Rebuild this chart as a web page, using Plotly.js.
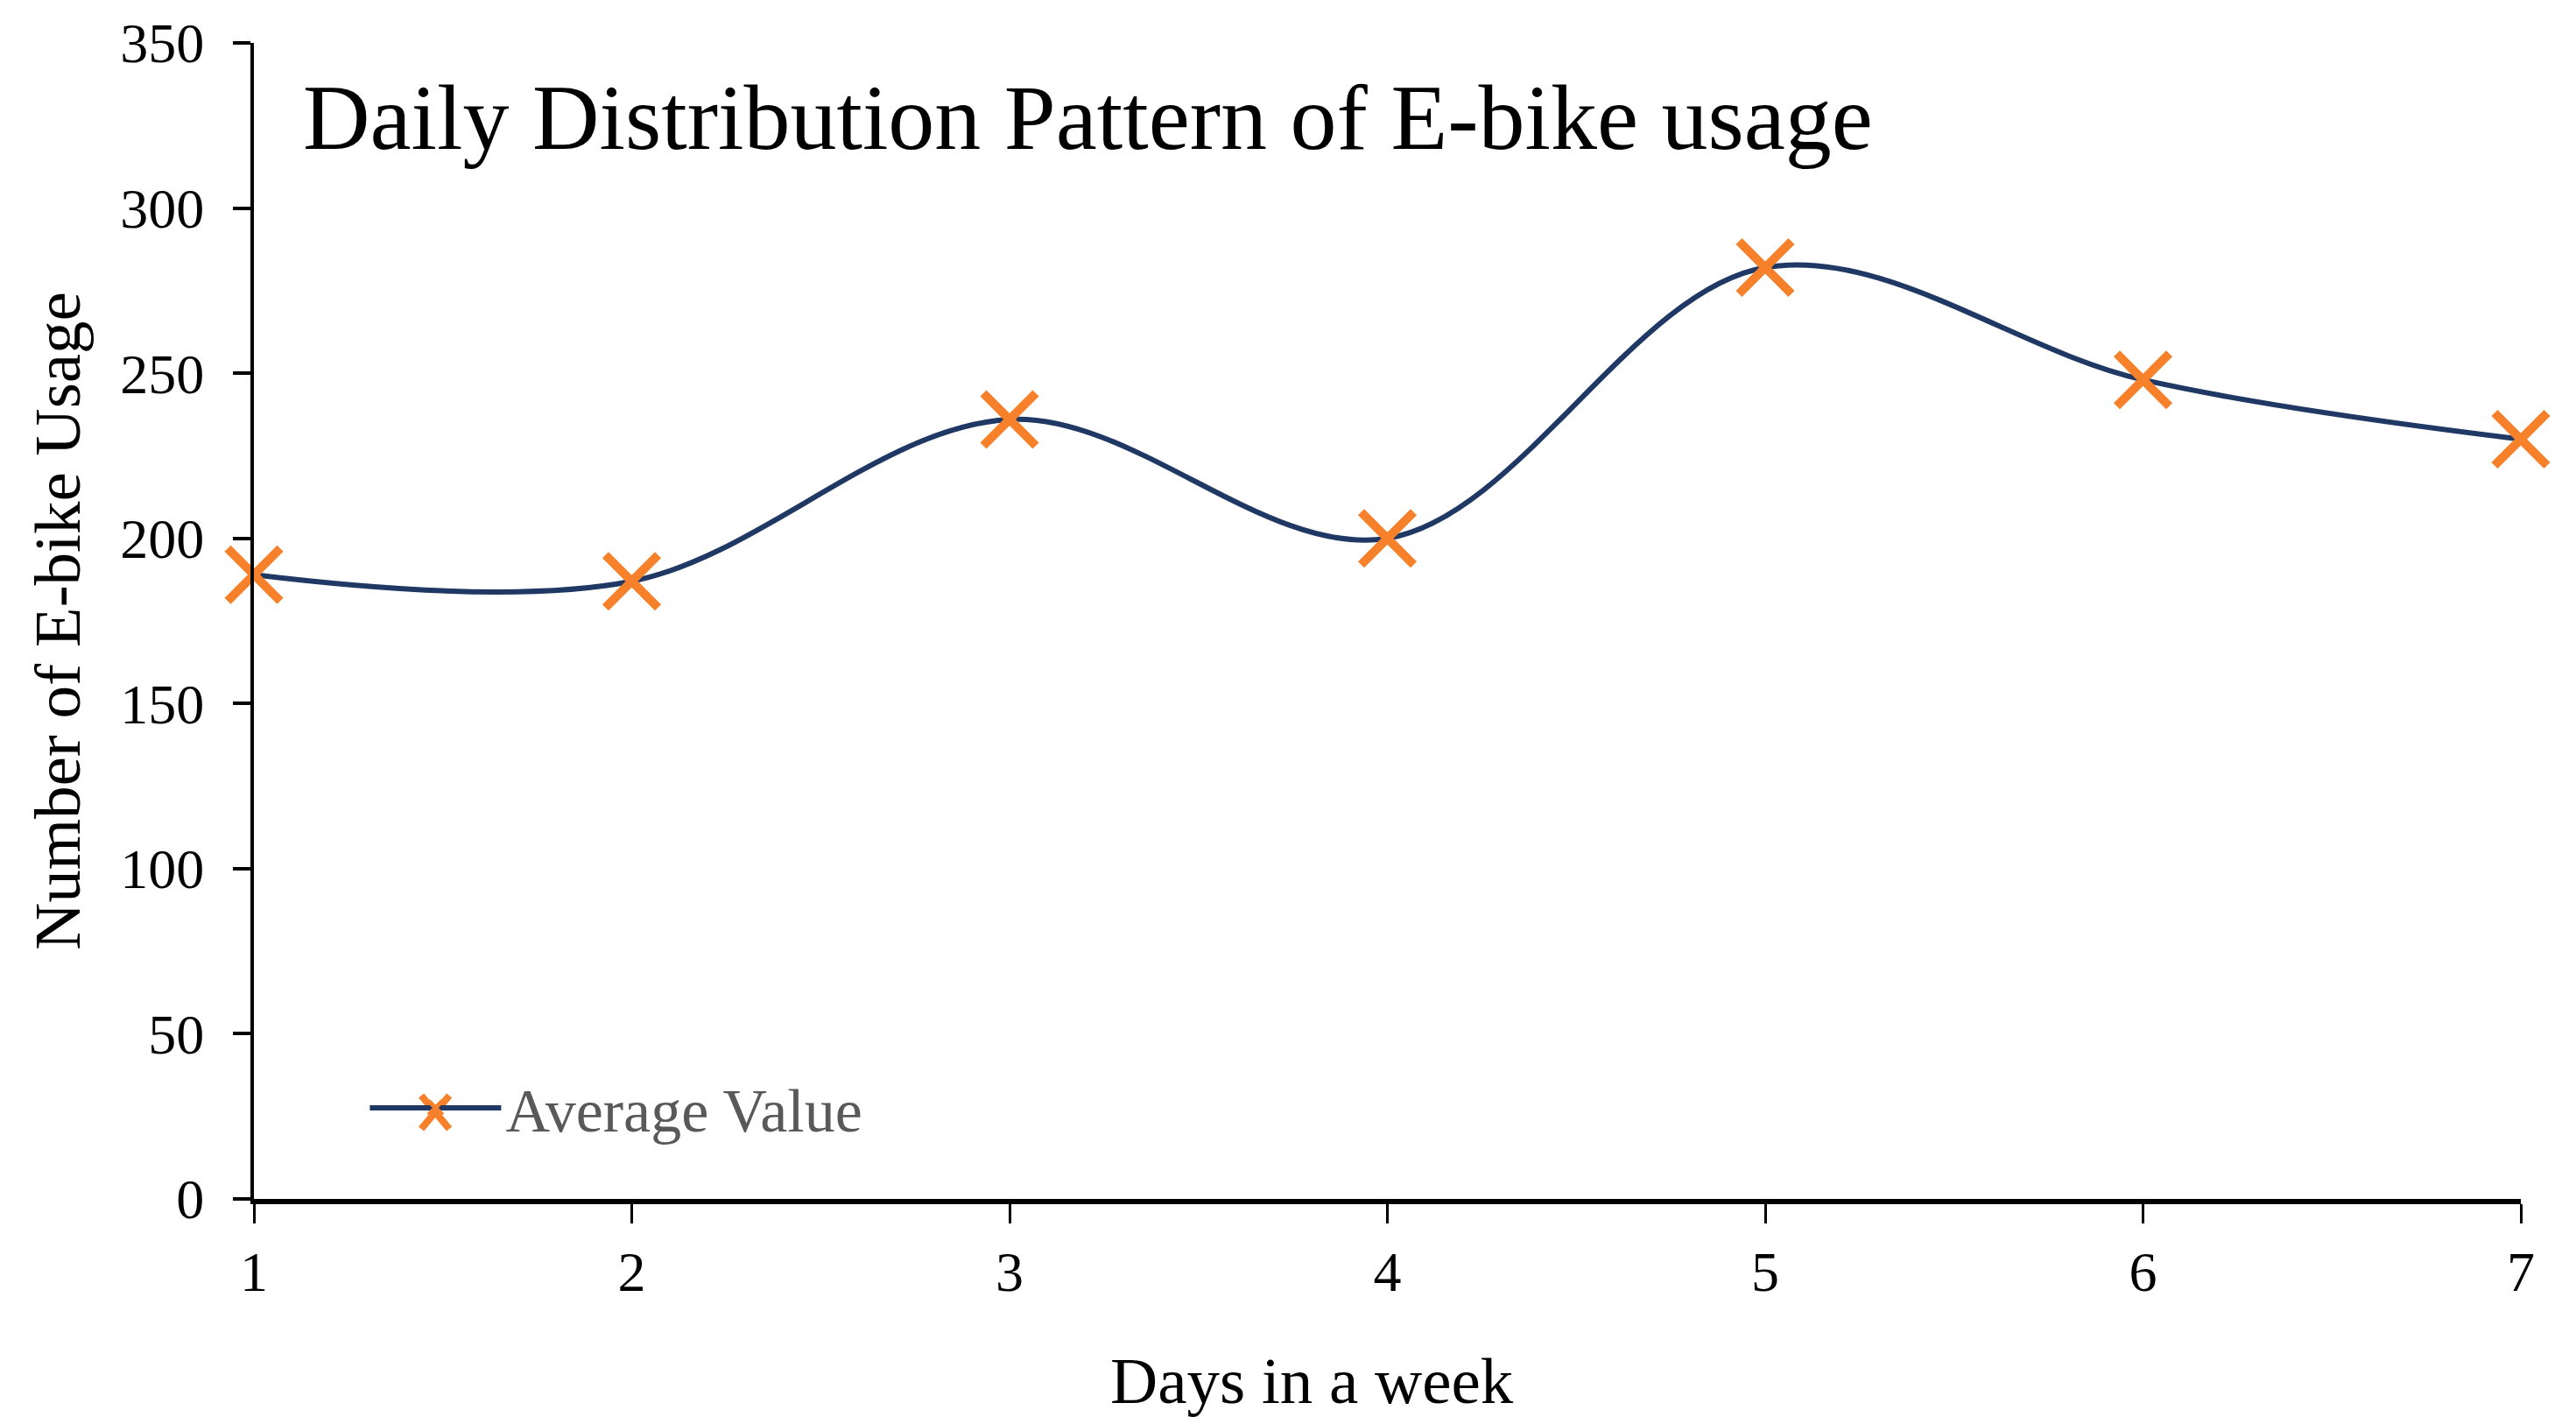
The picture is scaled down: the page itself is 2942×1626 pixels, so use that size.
<!DOCTYPE html>
<html>
<head>
<meta charset="utf-8">
<script src="https://cdn.plot.ly/plotly-3.0.1.min.js"></script>
<style>html,body{margin:0;padding:0;background:#fff;}#chart{width:2942px;height:1626px;}</style>
</head>
<body>
<div id="chart"></div>
<script>
const days = [1, 2, 3, 4, 5, 6, 7];
const averageValue = [189, 187, 236, 200, 282, 248, 230];
const yTicks = [0, 50, 100, 150, 200, 250, 300, 350];
const seriesName = 'Average Value';
const chartTitle = 'Daily Distribution Pattern of E-bike usage';
const xTitle = 'Days in a week';
const yTitle = 'Number of E-bike Usage';

const FONT = 'Liberation Serif, Times New Roman, serif';
const ORANGE = '#F7812A';
const NAVY = '#1F3864';

const trace = {
  x: days,
  y: averageValue,
  name: seriesName,
  type: 'scatter',
  mode: 'lines+markers',
  line: {color: NAVY, width: 6, shape: 'spline', smoothing: 1},
  marker: {symbol: 'x-thin-open', size: 60, color: ORANGE, line: {color: ORANGE, width: 10}},
  cliponaxis: false
};

// enlarged legend symbol cross (legend markers are capped in size by Plotly)
const legendCross = [
  {type: 'line', xref: 'paper', yref: 'paper', xsizemode: 'pixel', ysizemode: 'pixel',
   xanchor: 0.0800, yanchor: 0.075, x0: -16, x1: 16, y0: -19, y1: 19,
   line: {color: ORANGE, width: 8}, layer: 'above'},
  {type: 'line', xref: 'paper', yref: 'paper', xsizemode: 'pixel', ysizemode: 'pixel',
   xanchor: 0.0800, yanchor: 0.075, x0: -16, x1: 16, y0: 19, y1: -19,
   line: {color: ORANGE, width: 8}, layer: 'above'}
];

const layout = {
  width: 2942,
  height: 1626,
  paper_bgcolor: '#ffffff',
  plot_bgcolor: '#ffffff',
  margin: {l: 290, r: 63, t: 49, b: 257},
  font: {family: FONT, color: '#000000'},
  title: {
    text: chartTitle,
    font: {family: FONT, size: 106, color: '#000000'},
    xref: 'container', x: 346 / 2942, xanchor: 'left',
    yref: 'container', y: 1 - 133 / 1626, yanchor: 'middle'
  },
  xaxis: {
    range: [1, 7],
    tickmode: 'array', tickvals: days, ticktext: days.map(String),
    showgrid: false, zeroline: false,
    showline: true, linecolor: '#000000', linewidth: 6,
    ticks: 'outside', ticklen: 22, tickwidth: 3, tickcolor: '#000000',
    tickfont: {family: FONT, size: 64, color: '#000000'},
    ticklabelstandoff: 0,
    automargin: false
  },
  yaxis: {
    range: [0, 350],
    tickmode: 'array', tickvals: yTicks, ticktext: yTicks.map(String),
    showgrid: false, zeroline: false,
    showline: true, linecolor: '#000000', linewidth: 4,
    ticks: 'outside', ticklen: 20, tickwidth: 4, tickcolor: '#000000',
    tickfont: {family: FONT, size: 64, color: '#000000'},
    ticklabelstandoff: 20,
    title: {text: yTitle, font: {family: FONT, size: 75, color: '#000000'}, standoff: 22},
    automargin: false
  },
  annotations: [{
    text: xTitle, showarrow: false,
    xref: 'paper', x: (1498 - 290) / 2589, xanchor: 'center',
    yref: 'paper', y: -(1577 - 1369) / 1320, yanchor: 'middle',
    font: {family: FONT, size: 75, color: '#000000'}
  }],
  shapes: legendCross,
  showlegend: true,
  legend: {
    x: 0.0492, xanchor: 'left', y: 0.0788, yanchor: 'middle',
    bgcolor: 'rgba(0,0,0,0)',
    font: {family: FONT, size: 70, color: '#595959'},
    itemwidth: 150
  }
};

Plotly.newPlot('chart', [trace], layout, {displayModeBar: false, staticPlot: true});
</script>
</body>
</html>
